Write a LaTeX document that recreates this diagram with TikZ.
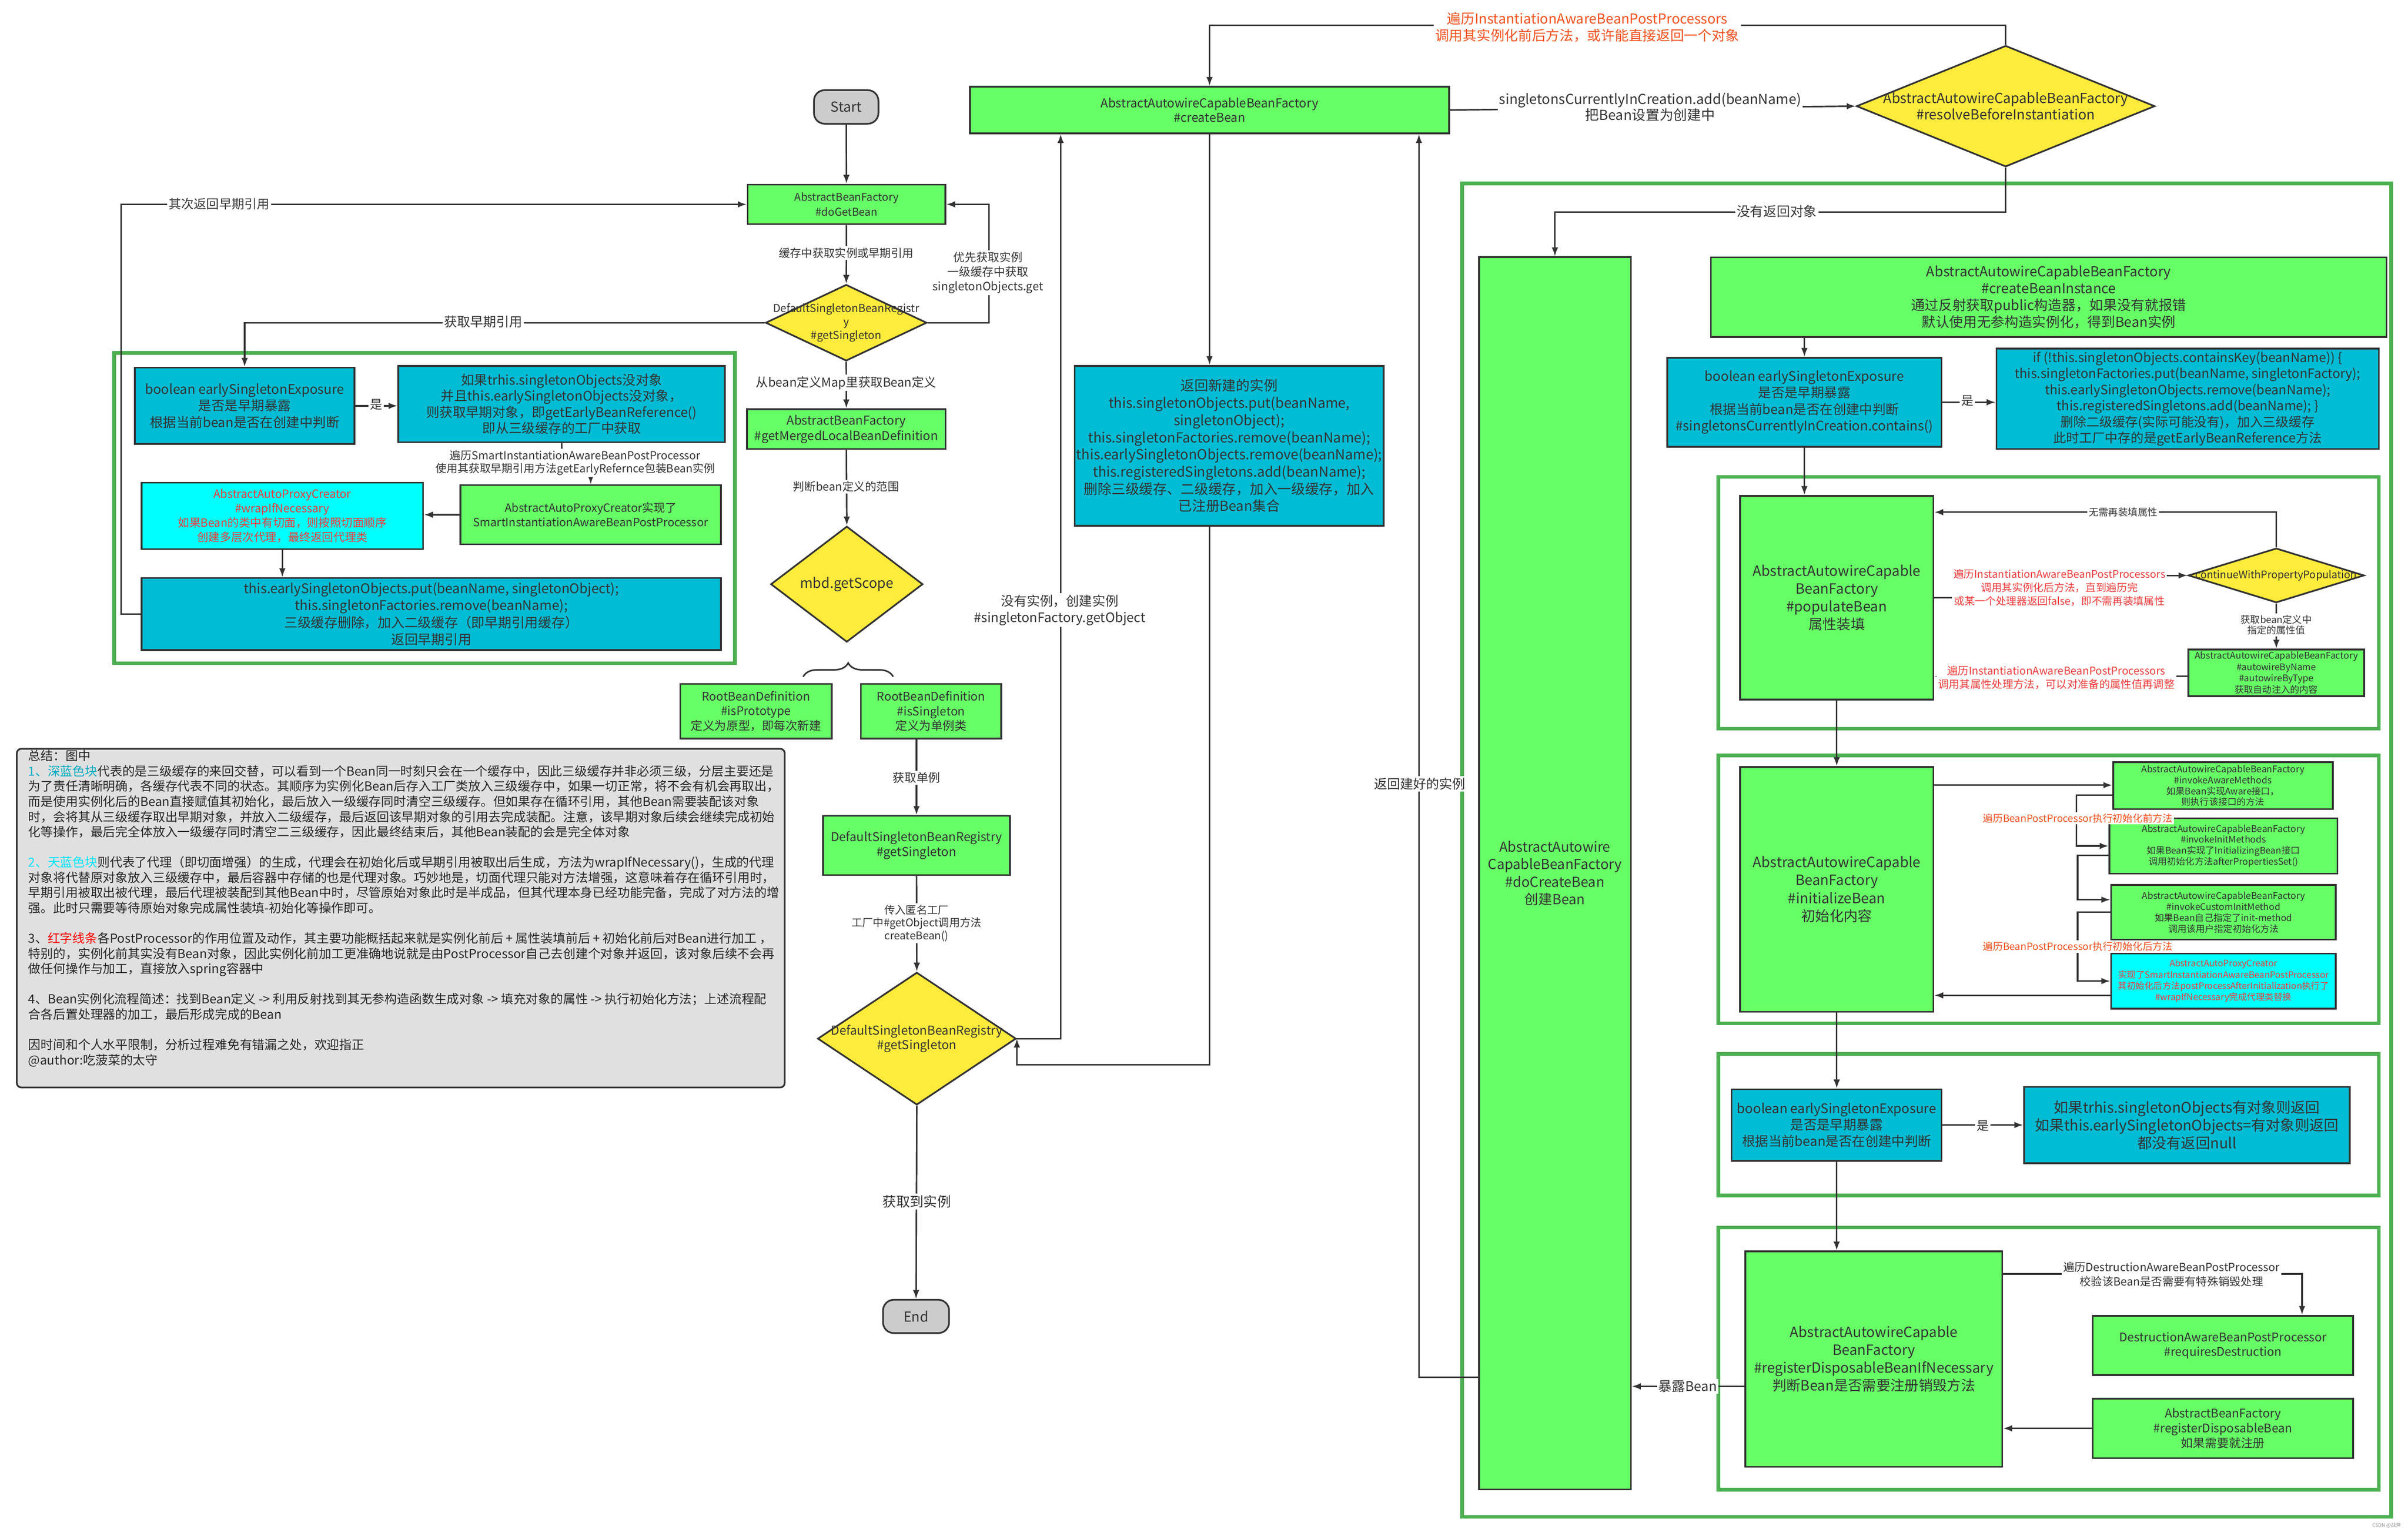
\documentclass[tikz,border=0pt]{standalone}
\usepackage{fontspec}
\setmainfont{Noto Sans CJK SC}
\usetikzlibrary{arrows.meta,shapes.geometric,decorations.pathreplacing}
\newcommand{\fsz}[2]{\fontsize{#1pt}{#2pt}\selectfont}
\definecolor{gfill}{HTML}{66FF66}
\definecolor{cfill}{HTML}{00BCD4}
\definecolor{sfill}{HTML}{00FFFF}
\definecolor{yfill}{HTML}{FFEB3B}
\definecolor{pfill}{HTML}{CCCCCC}
\definecolor{contg}{HTML}{4CAF50}
\definecolor{bd}{HTML}{333333}
\definecolor{txt}{HTML}{333333}
\definecolor{redt}{HTML}{F03C3C}
\definecolor{orng}{HTML}{F4511E}
\definecolor{sumfill}{HTML}{E0E0E0}
\definecolor{dblue}{HTML}{00ACC1}
\definecolor{sblue}{HTML}{00E5FF}
\tikzset{
  gbox/.style={draw=bd, line width=1.1pt, fill=gfill, inner sep=0pt, align=center, text=txt},
  cbox/.style={gbox, fill=cfill},
  sbox/.style={gbox, fill=sfill},
  dia/.style={diamond, draw=bd, line width=1.1pt, fill=yfill, inner sep=0pt},
  pill/.style={draw=bd, line width=1.1pt, fill=pfill, rounded corners=7pt, inner sep=0pt, text=txt},
  cont/.style={draw=contg, line width=2.4pt},
  ln/.style={draw=bd, line width=1pt},
  arr/.style={ln, -{Latex[length=5.8pt,width=4.2pt]}},
  lab/.style={fill=white, inner sep=1pt, align=center, text=txt},
  dtxt/.style={inner sep=0pt, align=center, text=txt}
}
\begin{document}
\begin{tikzpicture}[x=1pt,y=-1pt]
\useasboundingbox (0,0) rectangle (1568,998.4);
\fill[white] (0,0) rectangle (1568,998.4);

% ---------- containers ----------
\draw[cont] (74.3,229.8) rectangle (478.6,432);
\draw[cont] (952,119.5) rectangle (1557,988);
\draw[cont] (1119,310.6) rectangle (1549,474.6);
\draw[cont] (1119,492) rectangle (1549,666.5);
\draw[cont] (1119,686.5) rectangle (1549,778.6);
\draw[cont] (1119,799.5) rectangle (1549,970.3);

% ---------- summary ----------
\node[draw=bd, line width=1.1pt, fill=sumfill, rounded corners=3pt, minimum width=500.1pt, minimum height=220.6pt, inner sep=0pt] (sumbox) at (260.95,598) {};
\node[anchor=north west, inner sep=0pt, align=left, font=\fsz{8.1}{9.9}, text=black!85] (sumtext) at (18.3,488.4) {%
总结：图中\\%
\textcolor{dblue}{1、深蓝色块}代表的是三级缓存的来回交替，可以看到一个Bean同一时刻只会在一个缓存中，因此三级缓存并非必须三级，分层主要还是\\%
为了责任清晰明确，各缓存代表不同的状态。其顺序为实例化Bean后存入工厂类放入三级缓存中，如果一切正常，将不会有机会再取出，\\%
而是使用实例化后的Bean直接赋值其初始化，最后放入一级缓存同时清空三级缓存。但如果存在循环引用，其他Bean需要装配该对象\\%
时，会将其从三级缓存取出早期对象，并放入二级缓存，最后返回该早期对象的引用去完成装配。注意，该早期对象后续会继续完成初始\\%
化等操作，最后完全体放入一级缓存同时清空二三级缓存，因此最终结束后，其他Bean装配的会是完全体对象\\[9.9pt]%
\textcolor{sblue}{2、天蓝色块}则代表了代理（即切面增强）的生成，代理会在初始化后或早期引用被取出后生成，方法为wrapIfNecessary()，生成的代理\\%
对象将代替原对象放入三级缓存中，最后容器中存储的也是代理对象。巧妙地是，切面代理只能对方法增强，这意味着存在循环引用时，\\%
早期引用被取出被代理，最后代理被装配到其他Bean中时，尽管原始对象此时是半成品，但其代理本身已经功能完备，完成了对方法的增\\%
强。此时只需要等待原始对象完成属性装填-初始化等操作即可。\\[9.9pt]%
3、\textcolor{red}{红字线条}各PostProcessor的作用位置及动作，其主要功能概括起来就是实例化前后 + 属性装填前后 + 初始化前后对Bean进行加工 ，\\%
特别的，实例化前其实没有Bean对象，因此实例化前加工更准确地说就是由PostProcessor自己去创建个对象并返回，该对象后续不会再\\%
做任何操作与加工，直接放入spring容器中\\[9.9pt]%
4、Bean实例化流程简述：找到Bean定义 -> 利用反射找到其无参构造函数生成对象 -> 填充对象的属性 -> 执行初始化方法；上述流程配\\%
合各后置处理器的加工，最后形成完成的Bean\\[9.9pt]%
因时间和个人水平限制，分析过程难免有错漏之处，欢迎指正\\%
@author:吃菠菜的太守};

% ---------- left / middle column ----------
\node[pill, minimum width=42pt, minimum height=21.9pt, font=\fsz{9}{11}] (start) at (551,69.65) {Start};
\node[gbox, minimum width=128.8pt, minimum height=25.8pt, font=\fsz{7}{9.6}] (doget) at (551.2,133.1) {AbstractBeanFactory\\\#doGetBean};
\node[dia, minimum width=105pt, minimum height=49.7pt] (d1) at (551,210.2) {};
\node[dtxt, font=\fsz{7.1}{8.8}] (d1t) at (d1.center) {DefaultSingletonBeanRegistr\\y\\\#getSingleton};
\node[gbox, minimum width=129.4pt, minimum height=26pt, font=\fsz{8}{10}] (merged) at (551.1,279.5) {AbstractBeanFactory\\\#getMergedLocalBeanDefinition};
\node[dia, minimum width=99pt, minimum height=75.4pt] (scope) at (551.4,380.5) {};
\node[dtxt, font=\fsz{9}{11}] (scopet) at (scope.center) {mbd.getScope};
\node[gbox, minimum width=98.6pt, minimum height=35.7pt, font=\fsz{7.7}{9.5}] (proto) at (492.3,463.25) {RootBeanDefinition\\\#isPrototype\\定义为原型，即每次新建};
\node[gbox, minimum width=91.4pt, minimum height=35.7pt, font=\fsz{7.7}{9.5}] (single) at (606.3,463.25) {RootBeanDefinition\\\#isSingleton\\定义为单例类};
\node[gbox, minimum width=121.6pt, minimum height=38.6pt, font=\fsz{8}{9.9}] (getsgl) at (596.8,550.7) {DefaultSingletonBeanRegistry\\\#getSingleton};
\node[dia, minimum width=129.2pt, minimum height=86.3pt] (d2) at (597,676.5) {};
\node[dtxt, font=\fsz{8}{9.3}] (d2t) at (d2.center) {DefaultSingletonBeanRegistry\\\#getSingleton};
\node[pill, minimum width=43pt, minimum height=21.7pt, font=\fsz{9}{11}] (end) at (596.5,857.45) {End};

\node[gbox, minimum width=312pt, minimum height=30.3pt, font=\fsz{8}{9.5}] (create) at (787.6,71.65) {AbstractAutowireCapableBeanFactory\\\#createBean};
\node[dia, minimum width=194.3pt, minimum height=78.9pt] (resolve) at (1306,69.15) {};
\node[dtxt, font=\fsz{9}{10.5}] (resolvet) at (resolve.center) {AbstractAutowireCapableBeanFactory\\\#resolveBeforeInstantiation};
\node[cbox, minimum width=201.2pt, minimum height=104.2pt, font=\fsz{9}{11.2}] (retnew) at (800.4,290.4) {返回新建的实例\\this.singletonObjects.put(beanName,\\singletonObject);\\this.singletonFactories.remove(beanName);\\this.earlySingletonObjects.remove(beanName);\\this.registeredSingletons.add(beanName);\\删除三级缓存、二级缓存，加入一级缓存，加入\\已注册Bean集合};

% left container boxes
\node[cbox, minimum width=143pt, minimum height=49.7pt, font=\fsz{8.6}{10.8}] (bool1) at (159.3,264.35) {boolean earlySingletonExposure\\是否是早期暴露\\根据当前bean是否在创建中判断};
\node[cbox, minimum width=212.6pt, minimum height=49.6pt, font=\fsz{8.6}{10.5}] (ifno1) at (365.7,263.2) {如果trhis.singletonObjects没对象\\并且this.earlySingletonObjects没对象，\\则获取早期对象，即getEarlyBeanReference()\\即从三级缓存的工厂中获取};
\node[gbox, minimum width=169.7pt, minimum height=38.5pt, font=\fsz{7.4}{9.4}] (apc) at (384.65,335.25) {AbstractAutoProxyCreator实现了\\SmartInstantiationAwareBeanPostProcessor};
\node[sbox, minimum width=183.3pt, minimum height=43.2pt, font=\fsz{7.4}{9.4}, text=redt] (wrap) at (183.85,336) {AbstractAutoProxyCreator\\\#wrapIfNecessary\\如果Bean的类中有切面，则按照切面顺序\\创建多层次代理，最终返回代理类};
\node[cbox, minimum width=377.3pt, minimum height=46.9pt, font=\fsz{8.7}{11}] (put) at (280.85,399.95) {this.earlySingletonObjects.put(beanName, singletonObject);\\this.singletonFactories.remove(beanName);\\三级缓存删除，加入二级缓存（即早期引用缓存）\\返回早期引用};

% ---------- right big container ----------
\node[gbox, minimum width=99pt, minimum height=802.6pt, font=\fsz{9}{11.4}] (docreate) at (1012.5,568.8) {AbstractAutowire\\CapableBeanFactory\\\#doCreateBean\\创建Bean};
\node[gbox, minimum width=440pt, minimum height=51.9pt, font=\fsz{9}{11}] (cbi) at (1334,193.55) {AbstractAutowireCapableBeanFactory\\\#createBeanInstance\\通过反射获取public构造器，如果没有就报错\\默认使用无参构造实例化，得到Bean实例};
\node[cbox, minimum width=178.7pt, minimum height=58pt, font=\fsz{8.6}{10.8}] (bool2) at (1174.95,262) {boolean earlySingletonExposure\\是否是早期暴露\\根据当前bean是否在创建中判断\\\#singletonsCurrentlyInCreation.contains()};
\node[cbox, minimum width=249pt, minimum height=65.5pt, font=\fsz{8.4}{10.5}] (cyan2) at (1424.5,259.75) {if (!this.singletonObjects.containsKey(beanName)) \{\\this.singletonFactories.put(beanName, singletonFactory);\\this.earlySingletonObjects.remove(beanName);\\this.registeredSingletons.add(beanName); \}\\删除二级缓存(实际可能没有)，加入三级缓存\\此时工厂中存的是getEarlyBeanReference方法};

\node[gbox, minimum width=126pt, minimum height=132.7pt, font=\fsz{9.2}{11.5}] (pop) at (1196,389.35) {AbstractAutowireCapable\\BeanFactory\\\#populateBean\\属性装填};
\node[dia, minimum width=114.5pt, minimum height=35.5pt] (cont) at (1482.2,374.8) {};
\node[dtxt, font=\fsz{6.8}{8}] (contt) at (cont.center) {continueWithPropertyPopulation};
\node[gbox, minimum width=114.5pt, minimum height=30.4pt, font=\fsz{6}{7.4}] (autow) at (1482.25,438.2) {AbstractAutowireCapableBeanFactory\\\#autowireByName\\\#autowireByType\\获取自动注入的内容};

\node[gbox, minimum width=126pt, minimum height=159.5pt, font=\fsz{9.2}{11.7}] (init) at (1196,579.25) {AbstractAutowireCapable\\BeanFactory\\\#initializeBean\\初始化内容};
\node[gbox, minimum width=143pt, minimum height=30.6pt, font=\fsz{6}{7.2}] (aware) at (1447.5,511.7) {AbstractAutowireCapableBeanFactory\\\#invokeAwareMethods\\如果Bean实现Aware接口，\\则执行该接口的方法};
\node[gbox, minimum width=148.4pt, minimum height=36pt, font=\fsz{6}{7.2}] (initm) at (1447.8,551) {AbstractAutowireCapableBeanFactory\\\#invokeInitMethods\\如果Bean实现了InitializingBean接口\\调用初始化方法afterPropertiesSet()};
\node[gbox, minimum width=146.3pt, minimum height=35.6pt, font=\fsz{6}{7.2}] (custom) at (1447.85,594.2) {AbstractAutowireCapableBeanFactory\\\#invokeCustomInitMethod\\如果Bean自己指定了init-method\\调用该用户指定初始化方法};
\node[sbox, minimum width=146.3pt, minimum height=36pt, font=\fsz{5.8}{7.3}, text=redt] (proxy2) at (1447.85,639) {AbstractAutoProxyCreator\\实现了SmartInstantiationAwareBeanPostProcessor\\其初始化后方法postProcessAfterInitialization执行了\\\#wrapIfNecessary完成代理类替换};

\node[cbox, minimum width=136.7pt, minimum height=46.5pt, font=\fsz{8.6}{10.7}] (bool3) at (1195.95,732.75) {boolean earlySingletonExposure\\是否是早期暴露\\根据当前bean是否在创建中判断};
\node[cbox, minimum width=212pt, minimum height=49.7pt, font=\fsz{9.5}{11.7}] (cyan3) at (1424,732.85) {如果trhis.singletonObjects有对象则返回\\如果this.earlySingletonObjects=有对象则返回\\都没有返回null};

\node[gbox, minimum width=167.3pt, minimum height=140.3pt, font=\fsz{9.2}{11.7}] (regdisp) at (1220.15,885.15) {AbstractAutowireCapable\\BeanFactory\\\#registerDisposableBeanIfNecessary\\判断Bean是否需要注册销毁方法};
\node[gbox, minimum width=169.6pt, minimum height=38.6pt, font=\fsz{7.8}{9.5}] (destr) at (1447.5,876.3) {DestructionAwareBeanPostProcessor\\\#requiresDestruction};
\node[gbox, minimum width=169.6pt, minimum height=38.7pt, font=\fsz{7.8}{9.7}] (regbean) at (1447.5,930.35) {AbstractBeanFactory\\\#registerDisposableBean\\如果需要就注册};

% ---------- connectors ----------
\draw[arr] (start) -- (doget);
\draw[arr] (doget) -- (d1);
\draw[arr] (d1.east) -- ++(39.8,0) |- (doget.east);
\draw[arr] (d1.west) -| (bool1.north);
\draw[arr] (bool1.east) -- (bool1.east -| ifno1.west);
\draw[arr] (ifno1.south) -- ++(0,13) -| (apc.north);
\draw[arr] (apc.west) -- (apc.west -| wrap.east);
\draw[arr] (wrap.south) -- (wrap.south |- put.north);
\draw[arr] (put.west) -- ++(-12.9,0) |- (doget.west);
\draw[arr] (d1.south) -- (merged.north);
\draw[arr] (merged.south) -- (scope.north);
\draw[ln, decorate, decoration={brace, amplitude=9pt}] (523,440.8) -- (581.6,440.8);
\draw[arr] (getsgl.north |- single.south) -- (getsgl.north);
\draw[arr] (getsgl.south) -- (d2.north);
\draw[arr] (d2.south) -- (end.north);
\draw[arr] (d2.east) -- ++(28.5,0) coordinate (c690) -- (c690 |- create.south);
\draw[arr] (create.south) -- (create.south |- retnew.north);
\draw[arr] (create.south |- retnew.south) |- ([yshift=-17pt]d2.east) -- (d2.east);
\draw[arr] (create.east) -- (resolve.west);
\draw[arr] (resolve.north) -- ++(0,-12.6) -| (create.north);
\draw[arr] (resolve.south) -- ++(0,29.1) -| (docreate.north);
\draw[arr] ([yshift=-328.2pt]docreate.west) -- ++(-38.5,0) coordinate (c925) -- (c925 |- create.south);
\draw[arr] (bool2.north |- cbi.south) -- (bool2.north);
\draw[arr] (bool2.east) -- (bool2.east -| cyan2.west);
\draw[arr] (bool2.south) -- (bool2.south |- pop.north);
\draw[arr] (cont.north) |- ([yshift=55.75pt]pop.east);
\draw[arr] (pop.east) -- ++(81,0) |- (cont.west);
\draw[arr] (cont.south) -- (autow.north);
\draw[arr] ([yshift=-2.3pt]autow.west) coordinate (a29) -- (a29 -| pop.east);
\draw[arr] (pop.south) -- (init.north);
\draw[arr] ([yshift=67.85pt]init.east) coordinate (a31) -- (a31 -| aware.west);
\draw[arr] ([yshift=-6.1pt]aware.west) -- ++(-23.4,0) |- (initm.west);
\draw[arr] ([yshift=-6pt]initm.west) -- ++(-20.2,0) |- ([yshift=8.2pt]custom.west);
\draw[arr] (custom.west) -- ++(-21.3,0) |- (proxy2.west);
\draw[arr] ([yshift=-9.3pt]proxy2.west) coordinate (a35) -- (a35 -| init.east);
\draw[arr] (init.south) -- (init.south |- bool3.north);
\draw[arr] (bool3.east) -- (bool3.east -| cyan3.west);
\draw[arr] (bool3.south) -- (bool3.south |- regdisp.north);
\draw[arr] ([yshift=55.35pt]regdisp.east) -| ([xshift=51.5pt]destr.north);
\draw[arr] (regbean.west) -- (regbean.west -| regdisp.east);
\draw[arr] ([yshift=-17.85pt]regdisp.west) coordinate (a41) -- (a41 -| docreate.east);

% ---------- connector labels ----------
\node[lab, font=\fsz{7.3}{9}] (lcache) at (551,164.8) {缓存中获取实例或早期引用};
\node[lab, font=\fsz{7.5}{9.5}] (lfirst) at (643.3,177.6) {优先获取实例\\一级缓存中获取\\singletonObjects.get};
\node[lab, font=\fsz{8.5}{10}] (learly) at (314.7,209.5) {获取早期引用};
\node[lab, font=\fsz{8}{10}] (lyes1) at (245,263.5) {是};
\node[lab, font=\fsz{7.2}{8.4}] (lsmart) at (374.5,301.5) {遍历SmartInstantiationAwareBeanPostProcessor\\使用其获取早期引用方法getEarlyRefernce包装Bean实例};
\node[lab, font=\fsz{8.2}{10}] (lsecond) at (142.7,132.9) {其次返回早期引用};
\node[lab, font=\fsz{8}{10}] (lmap) at (551,249.4) {从bean定义Map里获取Bean定义};
\node[lab, font=\fsz{7.4}{9}] (lscope) at (551,317) {判断bean定义的范围};
\node[lab, font=\fsz{7.7}{9}] (lgetsgl) at (596.8,506.5) {获取单例};
\node[lab, font=\fsz{7}{8.4}] (lanon) at (596.8,601.4) {传入匿名工厂\\工厂中\#getObject调用方法\\createBean()};
\node[lab, font=\fsz{8.9}{10}] (lgot) at (597,782.6) {获取到实例};
\node[lab, font=\fsz{8.5}{10.5}] (lnoinst) at (690,397.4) {没有实例，创建实例\\\#singletonFactory.getObject};
\node[lab, font=\fsz{9}{10.5}] (ladd) at (1074.5,69.7) {singletonsCurrentlyInCreation.add(beanName)\\把Bean设置为创建中};
\node[lab, font=\fsz{9}{11}, text=orng] (ltop) at (1033.6,17.75) {遍历InstantiationAwareBeanPostProcessors\\调用其实例化前后方法，或许能直接返回一个对象};
\node[lab, font=\fsz{8.7}{10}] (lnoret) at (1157,137.7) {没有返回对象};
\node[lab, font=\fsz{8.5}{10}] (lbuilt) at (924.5,510.6) {返回建好的实例};
\node[lab, font=\fsz{8}{10}] (lyes2) at (1281,261) {是};
\node[lab, font=\fsz{6.4}{8}] (lnoneed) at (1382.5,333.6) {无需再装填属性};
\node[lab, font=\fsz{6.8}{8.7}, text=redt] (lafter) at (1341,382.7) {遍历InstantiationAwareBeanPostProcessors\\调用其实例化后方法，直到遍历完\\或某一个处理器返回false，即不需再装填属性};
\node[lab, font=\fsz{6.3}{7.1}] (lpropval) at (1482.2,407) {获取bean定义中\\指定的属性值};
\node[lab, font=\fsz{7}{8.8}, text=redt] (lprop) at (1339,441.2) {遍历InstantiationAwareBeanPostProcessors\\调用其属性处理方法，可以对准备的属性值再调整};
\node[lab, font=\fsz{6.5}{8}, text=orng] (lbefore) at (1353,533) {遍历BeanPostProcessor执行初始化前方法};
\node[lab, font=\fsz{6.5}{8}, text=orng] (lafterinit) at (1353,616.5) {遍历BeanPostProcessor执行初始化后方法};
\node[lab, font=\fsz{8}{10}] (lyes3) at (1291,733.4) {是};
\node[lab, font=\fsz{7.3}{9.7}] (ldestr) at (1414,830) {遍历DestructionAwareBeanPostProcessor\\校验该Bean是否需要有特殊销毁处理};
\node[lab, font=\fsz{8.7}{10}] (lexpose) at (1099,903) {暴露Bean};
\node[inner sep=0pt, font=\fsz{3.2}{4}, text=black!45] (wmark) at (1554,993.6) {CSDN @战斧};
\end{tikzpicture}
\end{document}
